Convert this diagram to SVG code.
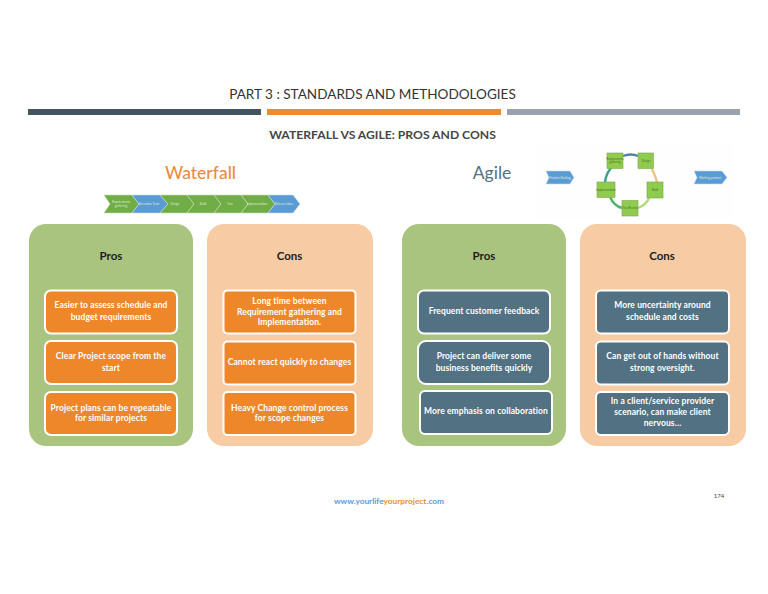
<svg xmlns="http://www.w3.org/2000/svg" width="768" height="594" viewBox="0 0 768 594">
<style>
text{font-family:Lato,"Liberation Sans",sans-serif;text-anchor:middle}
.panelG{fill:#a9c47f}.panelO{fill:#f7cba4}
.o{fill:#ee8729;stroke:#fff;stroke-width:2}
.b{fill:#527183;stroke:#fff;stroke-width:2}
.t{font-size:8.5px;font-weight:700;fill:#fff;letter-spacing:.1px}
.h{font-size:11.5px;font-weight:700;fill:#1d1d1d}
.g{fill:#70ad47;stroke:#c9dcb9;stroke-width:.6}
.bl{fill:#5b9bd5;stroke:#c5dbef;stroke-width:.6}
.s{font-size:3px;fill:#dfeccf}
.q{fill:#8fcb4c;stroke:#7fa550;stroke-width:.6}
.qt{font-size:2.800px;fill:#4a6b2a}
.a{fill:none;stroke-width:2.400}
</style>
<rect width="768" height="594" fill="#fff"/>
<g id="header">
<text x="372.500" y="98.800" font-size="13.560" fill="#333">PART 3 : STANDARDS AND METHODOLOGIES</text>
<rect x="28" y="109" width="233" height="6" fill="#44545f"/>
<rect x="267" y="109" width="234" height="6" fill="#ed8b2e"/>
<rect x="507" y="109" width="233" height="6" fill="#98a1ac"/>
<text x="382.500" y="139.300" font-size="12.170" font-weight="700" fill="#454545">WATERFALL VS AGILE: PROS AND CONS</text>
</g>
<g id="waterfall-title"><text x="200.500" y="178.500" font-size="17.500" font-weight="500" fill="#ed8b3c">Waterfall</text></g>
<g id="agile-title"><text x="492" y="178.500" font-size="17.500" fill="#527183">Agile</text></g>
<g id="waterfall-chevrons">
<polygon class="g" points="104,195 132,195 139,204 132,213 104,213 110,204"/>
<polygon class="bl" points="132,195 160,195 168,204 160,213 132,213 139,204"/>
<polygon class="g" points="160,195 187,195 194,204 187,213 160,213 168,204"/>
<polygon class="g" points="187,195 214,195 221,204 214,213 187,213 194,204"/>
<polygon class="g" points="214,195 241,195 248,204 241,213 214,213 221,204"/>
<polygon class="g" points="241,195 268,195 275,204 268,213 241,213 248,204"/>
<polygon class="bl" points="268,195 293,195 300,204 293,213 268,213 275,204"/>
<text class="s" x="121" y="203">Requirements</text><text class="s" x="121" y="206.500">gathering</text>
<text class="s" x="149" y="205">Execution Team</text>
<text class="s" x="175" y="205">Design</text>
<text class="s" x="203" y="205">Build</text>
<text class="s" x="230" y="205">Test</text>
<text class="s" x="257" y="205">Implementation</text>
<text class="s" x="284" y="205">Release/close</text>
</g>
<g id="agile-cycle">
<rect x="537" y="143" width="196" height="77" fill="#fdfefd"/>
<polygon class="bl" points="546,171 570,171 574,177.500 570,184 546,184 549,177.500"/>
<polygon class="bl" points="694,171 722,171 727,177.500 722,184 694,184 697,177.500"/>
<path class="a" stroke="#4f7ea8" d="M623,156Q631,153 638,156"/>
<path class="a" stroke="#f0c27f" d="M652,169Q655,175 657,182"/>
<path class="a" stroke="#b5d97b" d="M649,198Q646,205 638,208"/>
<path class="a" stroke="#4fb36a" d="M610,197Q614,206 622,208"/>
<path class="a" stroke="#3fa08a" d="M605,182Q606,174 611,168"/>
<rect class="q" x="607" y="153" width="16" height="15.500"/>
<rect class="q" x="638" y="153" width="15.500" height="15.500"/>
<rect class="q" x="647" y="182" width="16" height="16"/>
<rect class="q" x="622" y="200.500" width="16" height="15.500"/>
<rect class="q" x="597" y="182" width="18" height="15.500"/>
<text class="qt" x="615" y="159.500">Requirements</text><text class="qt" x="615" y="162.500">gathering</text>
<text class="qt" x="646" y="162">Design</text>
<text class="qt" x="655" y="191">Build</text>
<text class="qt" x="630" y="209">Test/Review</text>
<text class="qt" x="606" y="191">Implementation</text>
<text class="s" x="560" y="178.500">Product Backlog</text>
<text class="s" x="710" y="178.500">Working product</text>
</g>
<g id="wf-pros">
<rect class="panelG" x="29" y="224" width="164" height="222" rx="17"/>
<text class="h" x="111" y="260">Pros</text>
<rect class="o" x="45" y="290.500" width="132" height="43" rx="6"/>
<text class="t" x="111" y="308">Easier to assess schedule and</text><text class="t" x="111" y="319.500">budget requirements</text>
<rect class="o" x="45" y="341" width="132" height="43" rx="6"/>
<text class="t" x="111" y="359">Clear Project scope from the</text><text class="t" x="111" y="370.500">start</text>
<rect class="o" x="45" y="392" width="132" height="43" rx="6"/>
<text class="t" x="111" y="410.500">Project plans can be repeatable</text><text class="t" x="111" y="421">for similar projects</text>
</g>
<g id="wf-cons">
<rect class="panelO" x="207" y="224" width="166" height="222" rx="17"/>
<text class="h" x="289.500" y="260">Cons</text>
<rect class="o" x="223.500" y="290.500" width="132" height="43" rx="4"/>
<text class="t" x="289.500" y="303.500">Long time between</text><text class="t" x="289.500" y="314.500">Requirement gathering and</text><text class="t" x="289.500" y="325">Implementation.</text>
<rect class="o" x="223.500" y="341.500" width="132" height="43" rx="4"/>
<text class="t" x="289.500" y="365">Cannot react quickly to changes</text>
<rect class="o" x="223.500" y="392" width="132" height="43" rx="4"/>
<text class="t" x="289.500" y="410.500">Heavy Change control process</text><text class="t" x="289.500" y="421">for scope changes</text>
</g>
<g id="ag-pros">
<rect class="panelG" x="402" y="224" width="164" height="222" rx="17"/>
<text class="h" x="484" y="260">Pros</text>
<rect class="b" x="418" y="290.500" width="132" height="43" rx="6"/>
<text class="t" x="484" y="313.500">Frequent customer feedback</text>
<rect class="b" x="418" y="341" width="132" height="43" rx="8"/>
<text class="t" x="484" y="359">Project can deliver some</text><text class="t" x="484" y="370.500">business benefits quickly</text>
<rect class="b" x="420" y="391" width="132" height="43" rx="5"/>
<text class="t" x="486" y="414">More emphasis on collaboration</text>
</g>
<g id="ag-cons">
<rect class="panelO" x="580" y="224" width="166" height="222" rx="17"/>
<text class="h" x="662" y="260">Cons</text>
<rect class="b" x="596" y="290.500" width="133" height="43" rx="5"/>
<text class="t" x="662.500" y="308">More uncertainty around</text><text class="t" x="662.500" y="319.500">schedule and costs</text>
<rect class="b" x="596" y="341.500" width="133" height="43" rx="5"/>
<text class="t" x="662.500" y="359">Can get out of hands without</text><text class="t" x="662.500" y="370.500">strong oversight.</text>
<rect class="b" x="596" y="392" width="133" height="43" rx="5"/>
<text class="t" x="662.500" y="404">In a client/service provider</text><text class="t" x="662.500" y="415">scenario, can make client</text><text class="t" x="662.500" y="426">nervous…</text>
</g>
<g id="footer">
<text x="389" y="504" font-size="8.300" font-weight="700" fill="#5b9bd5">www.yourlife<tspan fill="#ed8b2e">yourproject</tspan>.com</text>
<text x="719" y="498" font-size="6" fill="#444">174</text>
</g>
</svg>
